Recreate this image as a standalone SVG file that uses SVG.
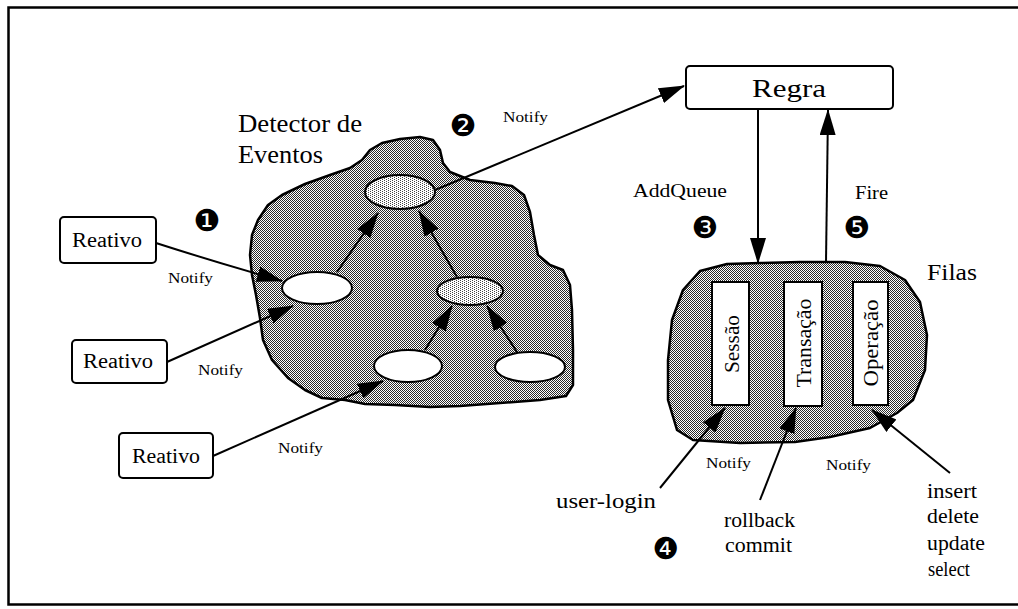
<svg xmlns="http://www.w3.org/2000/svg" width="1018" height="609" viewBox="0 0 1018 609">
<defs>
<pattern id="dots" width="2" height="2" patternUnits="userSpaceOnUse"><rect width="2" height="2" fill="#fff"/><rect width="1" height="1" fill="#2a2a2a"/><rect x="1" y="1" width="1" height="1" fill="#2a2a2a"/></pattern>
<pattern id="light" width="4" height="2" patternUnits="userSpaceOnUse"><rect width="4" height="2" fill="#fff"/><rect width="1" height="1" fill="#444"/><rect x="2" y="1" width="1" height="1" fill="#444"/></pattern>
<marker id="ah" markerUnits="userSpaceOnUse" markerWidth="28" markerHeight="16" refX="25" refY="8" orient="auto"><path d="M0,0 L26,8 L0,16 Z" fill="#000"/></marker>
</defs>
<style>
.blob{stroke:#000;stroke-width:2.5;fill:url(#dots);stroke-linejoin:round}
.box{fill:#fff;stroke:#000;stroke-width:2}
.ell{fill:#fff;stroke:#000;stroke-width:2}
.ell2{fill:url(#light);stroke:#000;stroke-width:2}
.t{font-family:"Liberation Serif","Times New Roman",serif;fill:#000}
.n{font-size:14px}
.c{font-family:"DejaVu Sans",sans-serif;font-size:30px;fill:#000}
#connectors path{stroke:#000;stroke-width:2;fill:none;marker-end:url(#ah)}
</style>
<rect id="frame" x="8.5" y="7.5" width="1020" height="597" fill="#fff" stroke="#000" stroke-width="2.5"/>

<g id="detector">
<path class="blob" d="M250,255 L252,235 258,220 268,205 282,195 305,184 330,175 350,168 362,160 370,150 382,143 400,139 420,137 433,140 440,150 443,163 450,172 470,180 495,183 512,186 524,195 530,212 534,235 538,255 550,265 563,270 570,285 572,310 573,350 573,385 566,396 540,400 500,403 460,406 430,407 395,405 365,404 345,400 322,398 305,390 288,378 272,360 263,340 260,318 256,295 252,275 Z"/>
<text class="t" x="238" y="132" font-size="25" textLength="124" lengthAdjust="spacingAndGlyphs">Detector de</text>
<text class="t" x="238" y="163" font-size="25" textLength="85" lengthAdjust="spacingAndGlyphs">Eventos</text>
</g>
<g id="ev-top"><ellipse class="ell2" cx="400" cy="192" rx="35" ry="17"/></g>
<g id="ev-left"><ellipse class="ell" cx="317" cy="288" rx="35" ry="16"/></g>
<g id="ev-mid"><ellipse class="ell2" cx="470" cy="291" rx="33" ry="14"/></g>
<g id="ev-bottom"><ellipse class="ell" cx="408" cy="366" rx="34" ry="16"/></g>
<g id="ev-bottom-right"><ellipse class="ell" cx="530" cy="367" rx="35" ry="15"/></g>

<g id="regra">
<rect class="box" x="686" y="66" width="207" height="43" rx="4"/>
<text class="t" x="752" y="97" font-size="25" textLength="74" lengthAdjust="spacingAndGlyphs">Regra</text>
</g>

<g id="filas">
<path class="blob" d="M700,271 L727,264 760,263 800,262 845,262 880,266 905,280 920,302 927,335 925,370 913,400 897,413 870,428 830,437 795,442 740,443 693,440 677,430 668,400 668,360 672,320 683,290 Z"/>
<text class="t" x="927" y="280" font-size="23" textLength="50" lengthAdjust="spacingAndGlyphs">Filas</text>
</g>
<g id="q-sessao">
<rect class="box" x="712" y="282" width="37" height="123"/>
<text class="t" transform="translate(732,344) rotate(-90)" text-anchor="middle" dominant-baseline="central" font-size="20" textLength="58" lengthAdjust="spacingAndGlyphs">Sessão</text>
</g>
<g id="q-transacao">
<rect class="box" x="784" y="282" width="38" height="124"/>
<text class="t" transform="translate(804,343) rotate(-90)" text-anchor="middle" dominant-baseline="central" font-size="20" textLength="89" lengthAdjust="spacingAndGlyphs">Transação</text>
</g>
<g id="q-operacao">
<rect class="box" x="853" y="282" width="35" height="123"/>
<text class="t" transform="translate(871,343) rotate(-90)" text-anchor="middle" dominant-baseline="central" font-size="20" textLength="87" lengthAdjust="spacingAndGlyphs">Operação</text>
</g>

<g id="reativo1">
<rect class="box" x="60" y="217" width="96" height="46" rx="4"/>
<text class="t" x="72" y="247" font-size="20" textLength="70" lengthAdjust="spacingAndGlyphs">Reativo</text>
</g>
<g id="reativo2">
<rect class="box" x="72" y="340" width="95" height="43" rx="4"/>
<text class="t" x="83" y="368" font-size="20" textLength="70" lengthAdjust="spacingAndGlyphs">Reativo</text>
</g>
<g id="reativo3">
<rect class="box" x="119" y="433" width="94" height="45" rx="4"/>
<text class="t" x="132" y="463" font-size="20" textLength="68" lengthAdjust="spacingAndGlyphs">Reativo</text>
</g>

<g id="connectors">
<path d="M156,243 Q215,262 282,281"/>
<path d="M167,362 L293,306"/>
<path d="M213,456 L383,381"/>
<path d="M337,272 L378,213"/>
<path d="M457,277 L419,211"/>
<path d="M425,350 L452,306"/>
<path d="M517,352 L487,306"/>
<path d="M435,190 L684,86"/>
<path d="M758,109 L758,263"/>
<path d="M826,262 L828,110"/>
<path d="M660,488 L725,408"/>
<path d="M760,500 L796,408"/>
<path d="M950,473 L872,410"/>
</g>

<g id="labels">
<text class="t n" x="168" y="283" textLength="45" lengthAdjust="spacingAndGlyphs">Notify</text>
<text class="t n" x="198" y="375" textLength="45" lengthAdjust="spacingAndGlyphs">Notify</text>
<text class="t n" x="278" y="453" textLength="45" lengthAdjust="spacingAndGlyphs">Notify</text>
<text class="t n" x="503" y="122" textLength="45" lengthAdjust="spacingAndGlyphs">Notify</text>
<text class="t n" x="706" y="468" textLength="45" lengthAdjust="spacingAndGlyphs">Notify</text>
<text class="t n" x="826" y="470" textLength="45" lengthAdjust="spacingAndGlyphs">Notify</text>
<text class="t" x="633" y="197" font-size="19" textLength="94" lengthAdjust="spacingAndGlyphs">AddQueue</text>
<text class="t" x="855" y="199" font-size="19" textLength="33" lengthAdjust="spacingAndGlyphs">Fire</text>
<text class="t" x="556" y="508" font-size="20" textLength="100" lengthAdjust="spacingAndGlyphs">user-login</text>
<text class="t" x="724" y="527" font-size="20" textLength="71" lengthAdjust="spacingAndGlyphs">rollback</text>
<text class="t" x="725" y="552" font-size="20" textLength="67" lengthAdjust="spacingAndGlyphs">commit</text>
<text class="t" x="927" y="498" font-size="20" textLength="50" lengthAdjust="spacingAndGlyphs">insert</text>
<text class="t" x="927" y="523" font-size="20" textLength="52" lengthAdjust="spacingAndGlyphs">delete</text>
<text class="t" x="927" y="550" font-size="20" textLength="58" lengthAdjust="spacingAndGlyphs">update</text>
<text class="t" x="928" y="576" font-size="20" textLength="42" lengthAdjust="spacingAndGlyphs">select</text>
<text class="c" x="207" y="220" text-anchor="middle" dominant-baseline="central">❶</text>
<text class="c" x="463" y="125" text-anchor="middle" dominant-baseline="central">❷</text>
<text class="c" x="705" y="227" text-anchor="middle" dominant-baseline="central">❸</text>
<text class="c" x="666" y="548" text-anchor="middle" dominant-baseline="central">❹</text>
<text class="c" x="857" y="227" text-anchor="middle" dominant-baseline="central">❺</text>
</g>
</svg>
